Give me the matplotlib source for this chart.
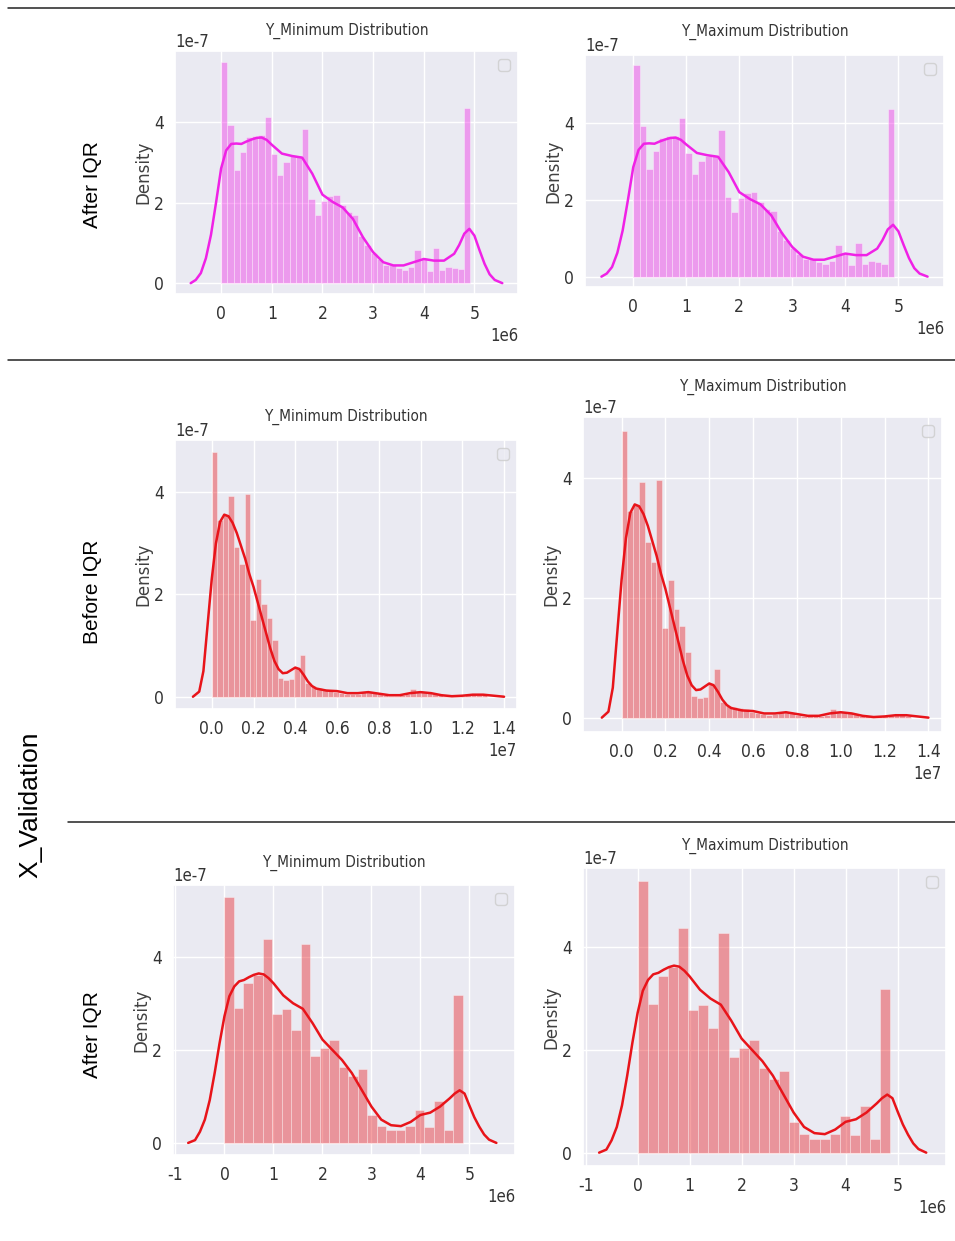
import matplotlib
matplotlib.use('Agg')
import matplotlib.pyplot as plt
import numpy as np
import seaborn as sns
from matplotlib import font_manager
from matplotlib.lines import Line2D
from matplotlib.ticker import MultipleLocator

# ---- data ----
# row 1: X_... after IQR (magenta), x in 1e6, density in 1e-7
r1_range = (0.0, 4.92)
r1_hist = [5.50, 3.92, 2.80, 3.26, 3.62, 3.65, 3.67, 4.12, 3.21, 2.68,
           3.00, 3.15, 3.15, 3.83, 2.08, 1.69, 2.05, 2.17, 2.20, 1.95,
           1.76, 1.70, 1.18, 0.95, 0.75, 0.60, 0.45, 0.45, 0.38, 0.32,
           0.40, 0.82, 0.60, 0.30, 0.88, 0.32, 0.40, 0.38, 0.34, 4.36]
r1_kde_x = [-0.6, -0.5, -0.4, -0.3, -0.2, -0.1, 0.0, 0.1, 0.2, 0.3, 0.4, 0.5,
            0.6, 0.7, 0.8, 0.9, 1.0, 1.2, 1.4, 1.6, 1.8, 2.0, 2.2, 2.4, 2.6,
            2.8, 3.0, 3.2, 3.4, 3.6, 3.8, 4.0, 4.2, 4.4, 4.6, 4.7, 4.8, 4.9,
            5.0, 5.1, 5.2, 5.3, 5.4, 5.55]
r1_kde_y = [0, 0.08, 0.25, 0.62, 1.2, 2.0, 2.85, 3.3, 3.46, 3.47, 3.46, 3.52,
            3.57, 3.61, 3.62, 3.56, 3.44, 3.22, 3.16, 3.12, 2.72, 2.2, 2.02, 1.88, 1.6,
            1.14, 0.77, 0.52, 0.44, 0.44, 0.52, 0.60, 0.56, 0.56, 0.73, 0.95, 1.23, 1.35,
            1.18, 0.82, 0.48, 0.22, 0.08, 0]

# row 2: X_Validation before IQR (red), x in 1e7, density in 1e-7
r2_range = (0.0, 1.32)
r2_hist = [4.78, 3.45, 3.55, 3.93, 2.93, 2.60, 3.97, 1.50, 2.30, 1.82,
           1.53, 1.10, 0.36, 0.33, 0.34, 0.58, 0.81, 0.26, 0.20, 0.18,
           0.16, 0.14, 0.10, 0.07, 0.06, 0.05, 0.06, 0.09, 0.10, 0.08,
           0.05, 0.03, 0.02, 0.02, 0.03, 0.05, 0.15, 0.10, 0.09, 0.08,
           0.06, 0.03, 0.02, 0.02, 0.02, 0.02, 0.04, 0.05, 0.04, 0.03]
r2_kde_x = [-0.09, -0.06, -0.04, -0.02, 0.0, 0.02, 0.04, 0.06, 0.08, 0.1,
            0.12, 0.14, 0.16, 0.18, 0.2, 0.22, 0.24, 0.26, 0.28, 0.3,
            0.32, 0.34, 0.36, 0.38, 0.40, 0.42, 0.44, 0.46, 0.48, 0.5,
            0.55, 0.6, 0.65, 0.7, 0.75, 0.8, 0.85, 0.9, 0.95, 1.0,
            1.05, 1.1, 1.15, 1.2, 1.25, 1.3, 1.35, 1.4]
r2_kde_y = [0, 0.1, 0.5, 1.4, 2.3, 3.0, 3.42, 3.56, 3.53, 3.4,
            3.2, 2.95, 2.7, 2.4, 2.15, 1.85, 1.55, 1.25, 0.95, 0.7,
            0.54, 0.46, 0.47, 0.52, 0.57, 0.54, 0.43, 0.3, 0.21, 0.16,
            0.12, 0.11, 0.07, 0.07, 0.09, 0.06, 0.03, 0.03, 0.07, 0.09,
            0.07, 0.03, 0.01, 0.02, 0.04, 0.04, 0.02, 0.0]

# row 3: X_Validation after IQR (red), x in 1e6, density in 1e-7
r3_range = (0.0, 4.86)
r3_hist = [5.28, 2.90, 3.43, 3.61, 4.38, 2.77, 2.87, 2.43, 4.28, 1.86,
           2.04, 2.20, 1.64, 1.43, 1.58, 0.60, 0.37, 0.27, 0.27, 0.37,
           0.71, 0.34, 0.91, 0.27, 3.18]
r3_kde_x = [-0.74, -0.6, -0.5, -0.4, -0.3, -0.2, -0.1, 0.0, 0.1, 0.2, 0.3,
            0.4, 0.5, 0.6, 0.7, 0.8, 0.9, 1.0, 1.2, 1.4, 1.6, 1.8, 2.0,
            2.2, 2.4, 2.6, 2.8, 3.0, 3.2, 3.4, 3.6, 3.8, 4.0, 4.2, 4.4,
            4.6, 4.7, 4.8, 4.9, 5.0, 5.1, 5.2, 5.3, 5.4, 5.55]
r3_kde_y = [0, 0.06, 0.24, 0.5, 0.92, 1.5, 2.14, 2.72, 3.15, 3.36, 3.47,
            3.5, 3.56, 3.61, 3.64, 3.62, 3.54, 3.43, 3.17, 3.0, 2.88, 2.57, 2.22,
            2.0, 1.78, 1.5, 1.14, 0.78, 0.5, 0.38, 0.36, 0.45, 0.6, 0.65, 0.78,
            0.96, 1.06, 1.13, 1.06, 0.8, 0.55, 0.35, 0.18, 0.07, 0]

titles = ['Y_Minimum Distribution', 'Y_Maximum Distribution']
row_labels = ['After IQR', 'Before IQR', 'After IQR']

# ---- style ----
sns.set_theme(style='darkgrid')
names = {(f.name, f.stretch) for f in font_manager.fontManager.ttflist}
if ('DejaVu Sans', 'condensed') in names:
    plt.rcParams['font.family'] = ['DejaVu Sans']
    plt.rcParams['font.stretch'] = 'condensed'
elif any(n == 'Liberation Sans Narrow' for n, s in names):
    plt.rcParams['font.family'] = ['Liberation Sans Narrow', 'DejaVu Sans']
else:
    plt.rcParams['font.family'] = ['DejaVu Sans']
plt.rcParams['axes.unicode_minus'] = False

W, H = 955, 1241
fig = plt.figure(figsize=(W / 100, H / 100), dpi=100)


def rect(x0, y0, x1, y1):
    return [x0 / W, 1 - y1 / H, (x1 - x0) / W, (y1 - y0) / H]


def panel(box, hist, hrange, kx, ky, xscale, xlim, ylim, xstep, color, title, tpad):
    ax = fig.add_axes(rect(*box))
    edges = np.linspace(hrange[0], hrange[1], len(hist) + 1) * xscale
    dens = np.array(hist) * 1e-7
    ax.bar(edges[:-1], dens, width=np.diff(edges), align='edge',
           color=color, alpha=0.4, edgecolor='white', linewidth=0.6)
    ax.plot(np.array(kx) * xscale, np.array(ky) * 1e-7, color=color, lw=1.8)
    ax.set_xlim(xlim[0] * xscale, xlim[1] * xscale)
    ax.set_ylim(ylim[0] * 1e-7, ylim[1] * 1e-7)
    ax.xaxis.set_major_locator(MultipleLocator(xstep * xscale))
    ax.yaxis.set_major_locator(MultipleLocator(2e-7))
    ax.tick_params(labelsize=12.5, colors='.2', pad=2)
    ax.xaxis.offsetText.set_fontsize(12)
    ax.yaxis.offsetText.set_fontsize(12)
    ax.set_title(title, fontsize=11, color='.2', pad=tpad)
    ax.set_ylabel('Density', fontsize=12, fontstretch='normal',
                  family='DejaVu Sans', color='.25', labelpad=1)
    ax.legend(handles=[], loc='upper right', facecolor='#EAEAF2',
              edgecolor='0.8', framealpha=0.8)
    return ax


mag = '#f022e6'
red = '#e8141a'
boxes = [
    [(175, 51, 518, 294), (585, 55, 944, 287)],
    [(175, 440, 517, 709), (583, 417, 942, 732)],
    [(173, 885, 515, 1155), (583, 868, 946, 1166)],
]
pads = [[12, 14], [14, 19], [13, 13]]
rows = [
    (r1_hist, r1_range, r1_kde_x, r1_kde_y, 1e6, (-0.91, 5.86), (-0.27, 5.77), 1.0, mag),
    (r2_hist, r2_range, r2_kde_x, r2_kde_y, 1e7, (-0.176, 1.462), (-0.24, 5.02), 0.2, red),
    (r3_hist, r3_range, r3_kde_x, r3_kde_y, 1e6, (-1.05, 5.93), (-0.26, 5.54), 1.0, red),
]
for r, (hist, hr, kx, ky, xs, xl, yl, st, col) in enumerate(rows):
    for c in range(2):
        panel(boxes[r][c], hist, hr, kx, ky, xs, xl, yl, st, col, titles[c], pads[r][c])

# table rules
for y, x0 in [(8, 8), (360, 8), (822, 68)]:
    fig.add_artist(Line2D([x0 / W, 1], [1 - y / H, 1 - y / H],
                          color='#222222', lw=1.1))

lab = dict(family=['Liberation Sans', 'DejaVu Sans'], fontstretch='normal',
           rotation=90, ha='center', va='center', color='black')
for y, t in zip([185, 592, 1035], row_labels):
    fig.text(92 / W, 1 - y / H, t, fontsize=15, **lab)
fig.text(30 / W, 1 - 805 / H, 'X_Validation', fontsize=19, **lab)

fig.savefig('out.png', dpi=100)
